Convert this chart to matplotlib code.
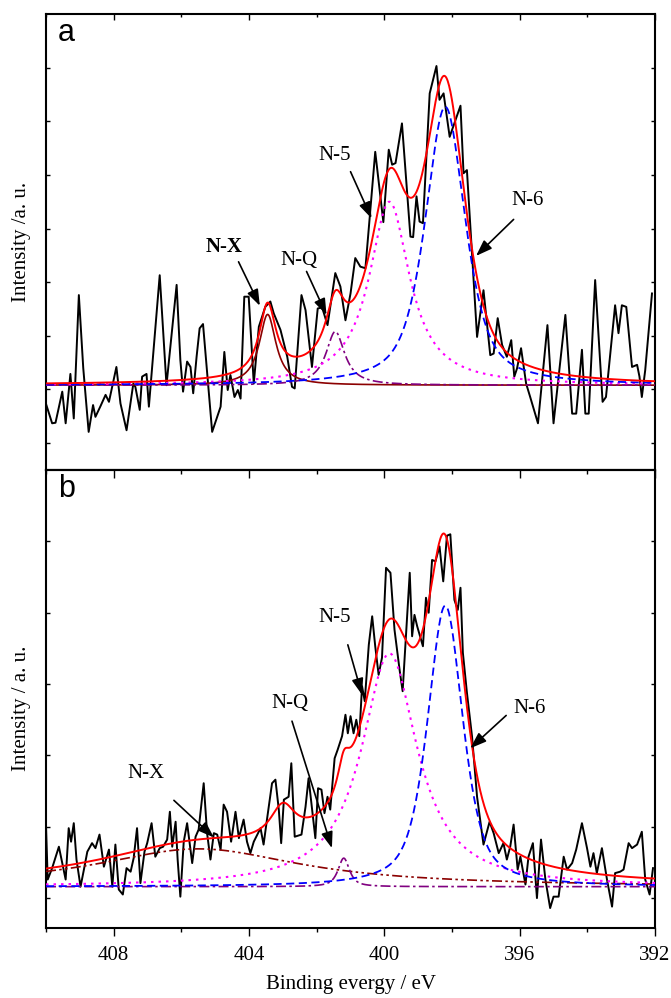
import matplotlib
matplotlib.use('Agg')
import matplotlib.pyplot as plt
import numpy as np

plt.rcParams['font.family'] = 'serif'
plt.rcParams['font.serif'] = ['Liberation Serif', 'DejaVu Serif']
plt.rcParams['mathtext.fontset'] = 'stix'

# ---------------- panel a : measured N 1s spectrum ----------------
ev_a = [410.00, 409.82, 409.72, 409.52, 409.42, 409.28, 409.18, 409.03, 408.90, 408.74,
        408.61, 408.54, 408.39, 408.24, 408.14, 407.92, 407.80, 407.62, 407.42, 407.36,
        407.23, 407.16, 407.03, 406.96, 406.64, 406.44, 406.14, 406.03, 405.95, 405.83,
        405.73, 405.65, 405.55, 405.46, 405.36, 405.09, 404.84, 404.73, 404.63, 404.55,
        404.43, 404.33, 404.25, 404.14, 404.01, 403.86, 403.71, 403.52, 403.37, 403.27,
        403.07, 402.87, 402.73, 402.65, 402.45, 402.33, 402.14, 401.97, 401.84, 401.68,
        401.45, 401.30, 401.15, 401.00, 400.86, 400.71, 400.56, 400.27, 400.03, 399.87,
        399.77, 399.67, 399.48, 399.23, 399.15, 399.05, 398.96, 398.86, 398.66, 398.46,
        398.37, 398.25, 398.07, 397.75, 397.66, 397.56, 397.26, 397.07, 396.87, 396.77,
        396.65, 396.52, 396.38, 396.25, 396.16, 396.08, 395.96, 395.81, 395.69, 395.46,
        395.18, 395.00, 394.65, 394.45, 394.33, 394.16, 394.06, 393.96, 393.77, 393.55,
        393.45, 393.18, 393.08, 392.98, 392.85, 392.68, 392.53, 392.46, 392.39, 392.29, 392.09]
int_a = [0.73, 0.37, 0.38, 0.96, 0.37, 1.29, 0.46, 2.76, 1.40, 0.21,
         0.71, 0.49, 0.69, 0.90, 0.77, 1.42, 0.74, 0.24, 1.11, 1.05,
         0.62, 1.24, 1.29, 0.68, 3.13, 1.08, 2.95, 1.55, 0.96, 1.52,
         1.42, 0.93, 1.61, 2.14, 2.22, 0.21, 0.68, 1.70, 0.99, 1.27,
         0.86, 0.99, 0.83, 2.73, 2.73, 1.11, 2.17, 2.54, 2.64, 2.42,
         2.11, 1.61, 1.05, 1.02, 2.76, 2.48, 1.42, 2.51, 2.53, 2.20,
         3.17, 2.92, 2.29, 2.79, 3.45, 3.29, 3.26, 5.43, 4.12, 5.47,
         5.19, 5.22, 5.96, 3.85, 3.84, 4.60, 4.13, 4.10, 6.52, 7.03,
         6.40, 6.52, 5.71, 6.29, 5.03, 5.09, 1.98, 2.85, 1.64, 1.67,
         2.33, 1.83, 1.61, 1.92, 1.24, 1.39, 1.77, 1.11, 0.86, 0.37,
         2.20, 0.37, 2.39, 0.55, 0.55, 1.74, 0.55, 0.55, 3.04, 0.77,
         0.86, 2.57, 2.05, 2.57, 2.54, 1.42, 1.46, 1.24, 0.86, 1.36, 2.79]

# fitted peaks (N-X, N-Q, N-5, N-6): centre / height / fwhm / lorentz share
pos_a = [403.45, 401.45, 399.85, 398.20]
height_a = [1.32, 1.00, 3.42, 5.19]
fwhm_a = [0.60, 0.67, 1.45, 1.41]
eta_a = [1.0, 1.0, 1.0, 0.65]
bg_a = 1.08

# ---------------- panel b ----------------
ev_b = [410.00, 409.95, 409.82, 409.62, 409.42, 409.33, 409.26, 409.18, 409.10, 408.98,
        408.88, 408.78, 408.64, 408.54, 408.42, 408.29, 408.14, 408.04, 407.95, 407.85,
        407.73, 407.62, 407.50, 407.41, 407.31, 407.21, 407.09, 407.01, 406.88, 406.77,
        406.64, 406.54, 406.42, 406.34, 406.27, 406.17, 406.11, 406.03, 405.93, 405.83,
        405.68, 405.58, 405.49, 405.34, 405.24, 405.14, 405.04, 404.94, 404.84, 404.75,
        404.65, 404.53, 404.40, 404.30, 404.16, 404.06, 403.96, 403.86, 403.66, 403.57,
        403.47, 403.32, 403.22, 403.12, 403.05, 402.97, 402.83, 402.75, 402.65, 402.45,
        402.33, 402.24, 402.04, 401.96, 401.86, 401.77, 401.68, 401.60, 401.47, 401.38,
        401.25, 401.15, 401.08, 401.00, 400.91, 400.83, 400.74, 400.66, 400.58, 400.46,
        400.36, 400.27, 400.17, 400.07, 399.95, 399.82, 399.70, 399.55, 399.46, 399.25,
        399.18, 399.11, 399.03, 398.86, 398.77, 398.69, 398.59, 398.49, 398.37, 398.26,
        398.15, 398.05, 397.93, 397.83, 397.75, 397.68, 397.56, 397.41, 397.26, 397.07,
        396.89, 396.77, 396.62, 396.48, 396.38, 396.28, 396.18, 396.06, 395.98, 395.83,
        395.74, 395.61, 395.49, 395.37, 395.24, 395.10, 395.00, 394.85, 394.70, 394.60,
        394.45, 394.33, 394.16, 394.01, 393.91, 393.82, 393.72, 393.57, 393.42, 393.27,
        393.18, 393.03, 392.93, 392.78, 392.68, 392.53, 392.39, 392.29, 392.16, 392.06]
int_b = [1.00, 0.26, 0.42, 0.72, 0.26, 0.98, 0.79, 1.05, 0.54, 0.16,
         0.40, 0.65, 0.77, 0.70, 0.89, 0.44, 0.68, 0.16, 0.75, 0.12,
         0.05, 0.42, 0.37, 0.56, 0.98, 0.21, 0.65, 0.77, 1.05, 0.58,
         0.70, 0.72, 0.82, 1.21, 0.72, 1.07, 0.54, 0.02, 0.79, 1.05,
         0.49, 0.86, 0.96, 1.61, 0.91, 0.54, 0.91, 0.89, 0.68, 1.31,
         1.21, 0.79, 1.21, 0.84, 1.10, 0.79, 0.63, 0.79, 0.98, 0.75,
         1.10, 1.61, 1.66, 1.24, 0.77, 1.38, 1.42, 1.89, 0.86, 0.89,
         1.28, 1.68, 0.84, 1.54, 1.52, 1.19, 1.42, 1.24, 1.96, 2.08,
         2.27, 2.57, 2.31, 2.55, 2.31, 2.50, 2.27, 2.97, 2.76, 3.55,
         3.95, 3.53, 3.13, 3.37, 4.63, 4.56, 3.76, 3.20, 2.90, 4.56,
         3.67, 3.97, 3.81, 3.53, 4.21, 4.00, 4.74, 4.72, 4.93, 4.44,
         5.08, 5.10, 4.18, 4.04, 4.35, 3.44, 2.88, 2.27, 1.42, 0.75,
         1.07, 0.91, 0.63, 0.77, 0.54, 0.72, 1.03, 0.40, 0.58, 0.19,
         0.58, 0.77, 0.00, 0.82, 0.26, -0.14, 0.02, 0.02, 0.58, 0.40,
         0.49, 0.68, 1.05, 0.70, 0.44, 0.63, 0.35, 0.70, 0.26, -0.12,
         0.35, 0.37, 0.40, 0.77, 0.70, 0.75, 0.93, 0.26, 0.05, 0.42]

pos_b = [405.50, 401.20, 399.85, 398.20]
height_b = [0.53, 0.40, 3.27, 3.94]
fwhm_b = [7.4, 0.40, 2.00, 1.24]
eta_b = [1.0, 0.8, 1.0, 0.6]
# small shoulder that only shows up in the envelope
extra_b = (403.0, 0.47, 0.9, 1.0)
bg_b = 0.16

labels = ['N-X', 'N-Q', 'N-5', 'N-6']


def pvoigt(x, c, h, w, eta):
    lor = 1.0 / (1.0 + (2 * (x - c) / w) ** 2)
    gau = np.exp(-4 * np.log(2) * ((x - c) / w) ** 2)
    return h * (eta * lor + (1 - eta) * gau)


grid = np.linspace(410, 392, 900)

fig = plt.figure(figsize=(6.71, 9.98), dpi=100)
ax_a = fig.add_axes([0.0686, 0.5291, 0.9076, 0.4569])
ax_b = fig.add_axes([0.0686, 0.0701, 0.9076, 0.4589])

maroon = '#8b0000'
purple = '#800080'
styles_a = [dict(color=maroon, ls='-', lw=1.2),
            dict(color=purple, ls=(0, (6, 2, 1.5, 2)), lw=1.2),
            dict(color='#ff00ff', ls=(0, (1.2, 2.4)), lw=1.5),
            dict(color='#0000ff', ls=(0, (4.5, 2.5)), lw=1.3)]
styles_b = [dict(color=maroon, ls=(0, (6, 2, 1.5, 2, 1.5, 2)), lw=1.2)] + styles_a[1:]


def draw_panel(ax, ev, inten, pos, hgt, fw, eta, bg, styles, extra=None):
    ax.plot(ev, inten, color='k', lw=1.4, zorder=2)
    total = np.full_like(grid, bg)
    for c, h, w, e, st in zip(pos, hgt, fw, eta, styles):
        comp = pvoigt(grid, c, h, w, e)
        total += comp
        ax.plot(grid, bg + comp, zorder=3, **st)
    if extra is not None:
        total += pvoigt(grid, *extra)
    ax.plot(grid, total, color='#ff0000', lw=1.4, zorder=4)


draw_panel(ax_a, ev_a, int_a, pos_a, height_a, fwhm_a, eta_a, bg_a, styles_a)
draw_panel(ax_b, ev_b, int_b, pos_b, height_b, fwhm_b, eta_b, bg_b, styles_b, extra_b)

# annotation text spots, arrow tails and arrow heads
txt_a = [(404.73, 3.66), (402.53, 3.41), (401.47, 5.37), (395.78, 4.53)]
tail_a = [(404.31, 3.38), (402.30, 3.20), (401.00, 5.06), (396.18, 4.17)]
head_a = [(403.68, 2.56), (401.71, 2.39), (400.38, 4.19), (397.29, 3.49)]
txt_b = [(407.06, 1.74), (402.78, 2.73), (401.47, 3.93), (395.71, 2.66)]
tail_b = [(406.22, 1.37), (402.73, 2.48), (401.08, 3.55), (396.40, 2.56)]
head_b = [(405.04, 0.85), (401.55, 0.70), (400.66, 2.85), (397.46, 2.10)]

arrow = dict(arrowstyle='-|>,head_length=0.7,head_width=0.25', color='k',
             lw=1.2, shrinkA=0, shrinkB=0, mutation_scale=14)

for ax, txt, tail, head, bold in [(ax_a, txt_a, tail_a, head_a, True),
                                  (ax_b, txt_b, tail_b, head_b, False)]:
    for i, lab in enumerate(labels):
        fw_ = 'bold' if (bold and lab == 'N-X') else 'normal'
        ax.text(txt[i][0], txt[i][1], lab, fontsize=15, ha='center', va='center',
                fontweight=fw_)
        ax.annotate('', xy=head[i], xytext=tail[i], arrowprops=arrow, zorder=5)

for ax, lim, yt in [(ax_a, (-0.5, 8.0), range(0, 8)), (ax_b, (-0.42, 6.0), range(0, 6))]:
    ax.set_xlim(410, 392)
    ax.set_ylim(*lim)
    ax.set_xticks([408, 404, 400, 396, 392])
    ax.set_xticks([410, 406, 402, 398, 394], minor=True)
    ax.set_yticks(list(yt))
    ax.set_yticklabels([])
    for sp in ax.spines.values():
        sp.set_linewidth(1.5)
    ax.tick_params(axis='y', which='both', direction='in', length=3, width=1,
                   left=True, right=True)

ax_a.tick_params(axis='x', which='major', direction='in', length=4, width=1,
                 top=True, bottom=False, labelbottom=False)
ax_a.tick_params(axis='x', which='minor', direction='in', length=2.5, width=1,
                 top=True, bottom=False)

ax_b.tick_params(axis='x', which='major', direction='out', length=6, width=1,
                 top=False, labelsize=15, pad=7)
ax_b.tick_params(axis='x', which='minor', direction='out', length=3, width=1, top=False)
top_b = ax_b.secondary_xaxis('top')
top_b.set_xticks([408, 404, 400, 396, 392])
top_b.set_xticks([410, 406, 402, 398, 394], minor=True)
top_b.tick_params(axis='x', which='major', direction='in', length=6, width=1, labeltop=False)
top_b.tick_params(axis='x', which='minor', direction='in', length=3, width=1)
top_b.spines['top'].set_linewidth(1.5)

ax_a.set_ylabel('Intensity /a. u.', fontsize=15)
ax_b.set_ylabel('Intensity / a. u.', fontsize=15)
ax_a.yaxis.set_label_coords(-0.024, 0.5)
ax_b.yaxis.set_label_coords(-0.024, 0.48)
ax_b.set_xlabel('Binding evergy / eV', fontsize=15, labelpad=7)

ax_a.text(0.02, 0.958, 'a', transform=ax_a.transAxes, fontsize=22,
          family='Liberation Sans', ha='left', va='center')
ax_b.text(0.02, 0.958, 'b', transform=ax_b.transAxes, fontsize=22,
          family='Liberation Sans', ha='left', va='center')

fig.savefig('out.png', dpi=100)
